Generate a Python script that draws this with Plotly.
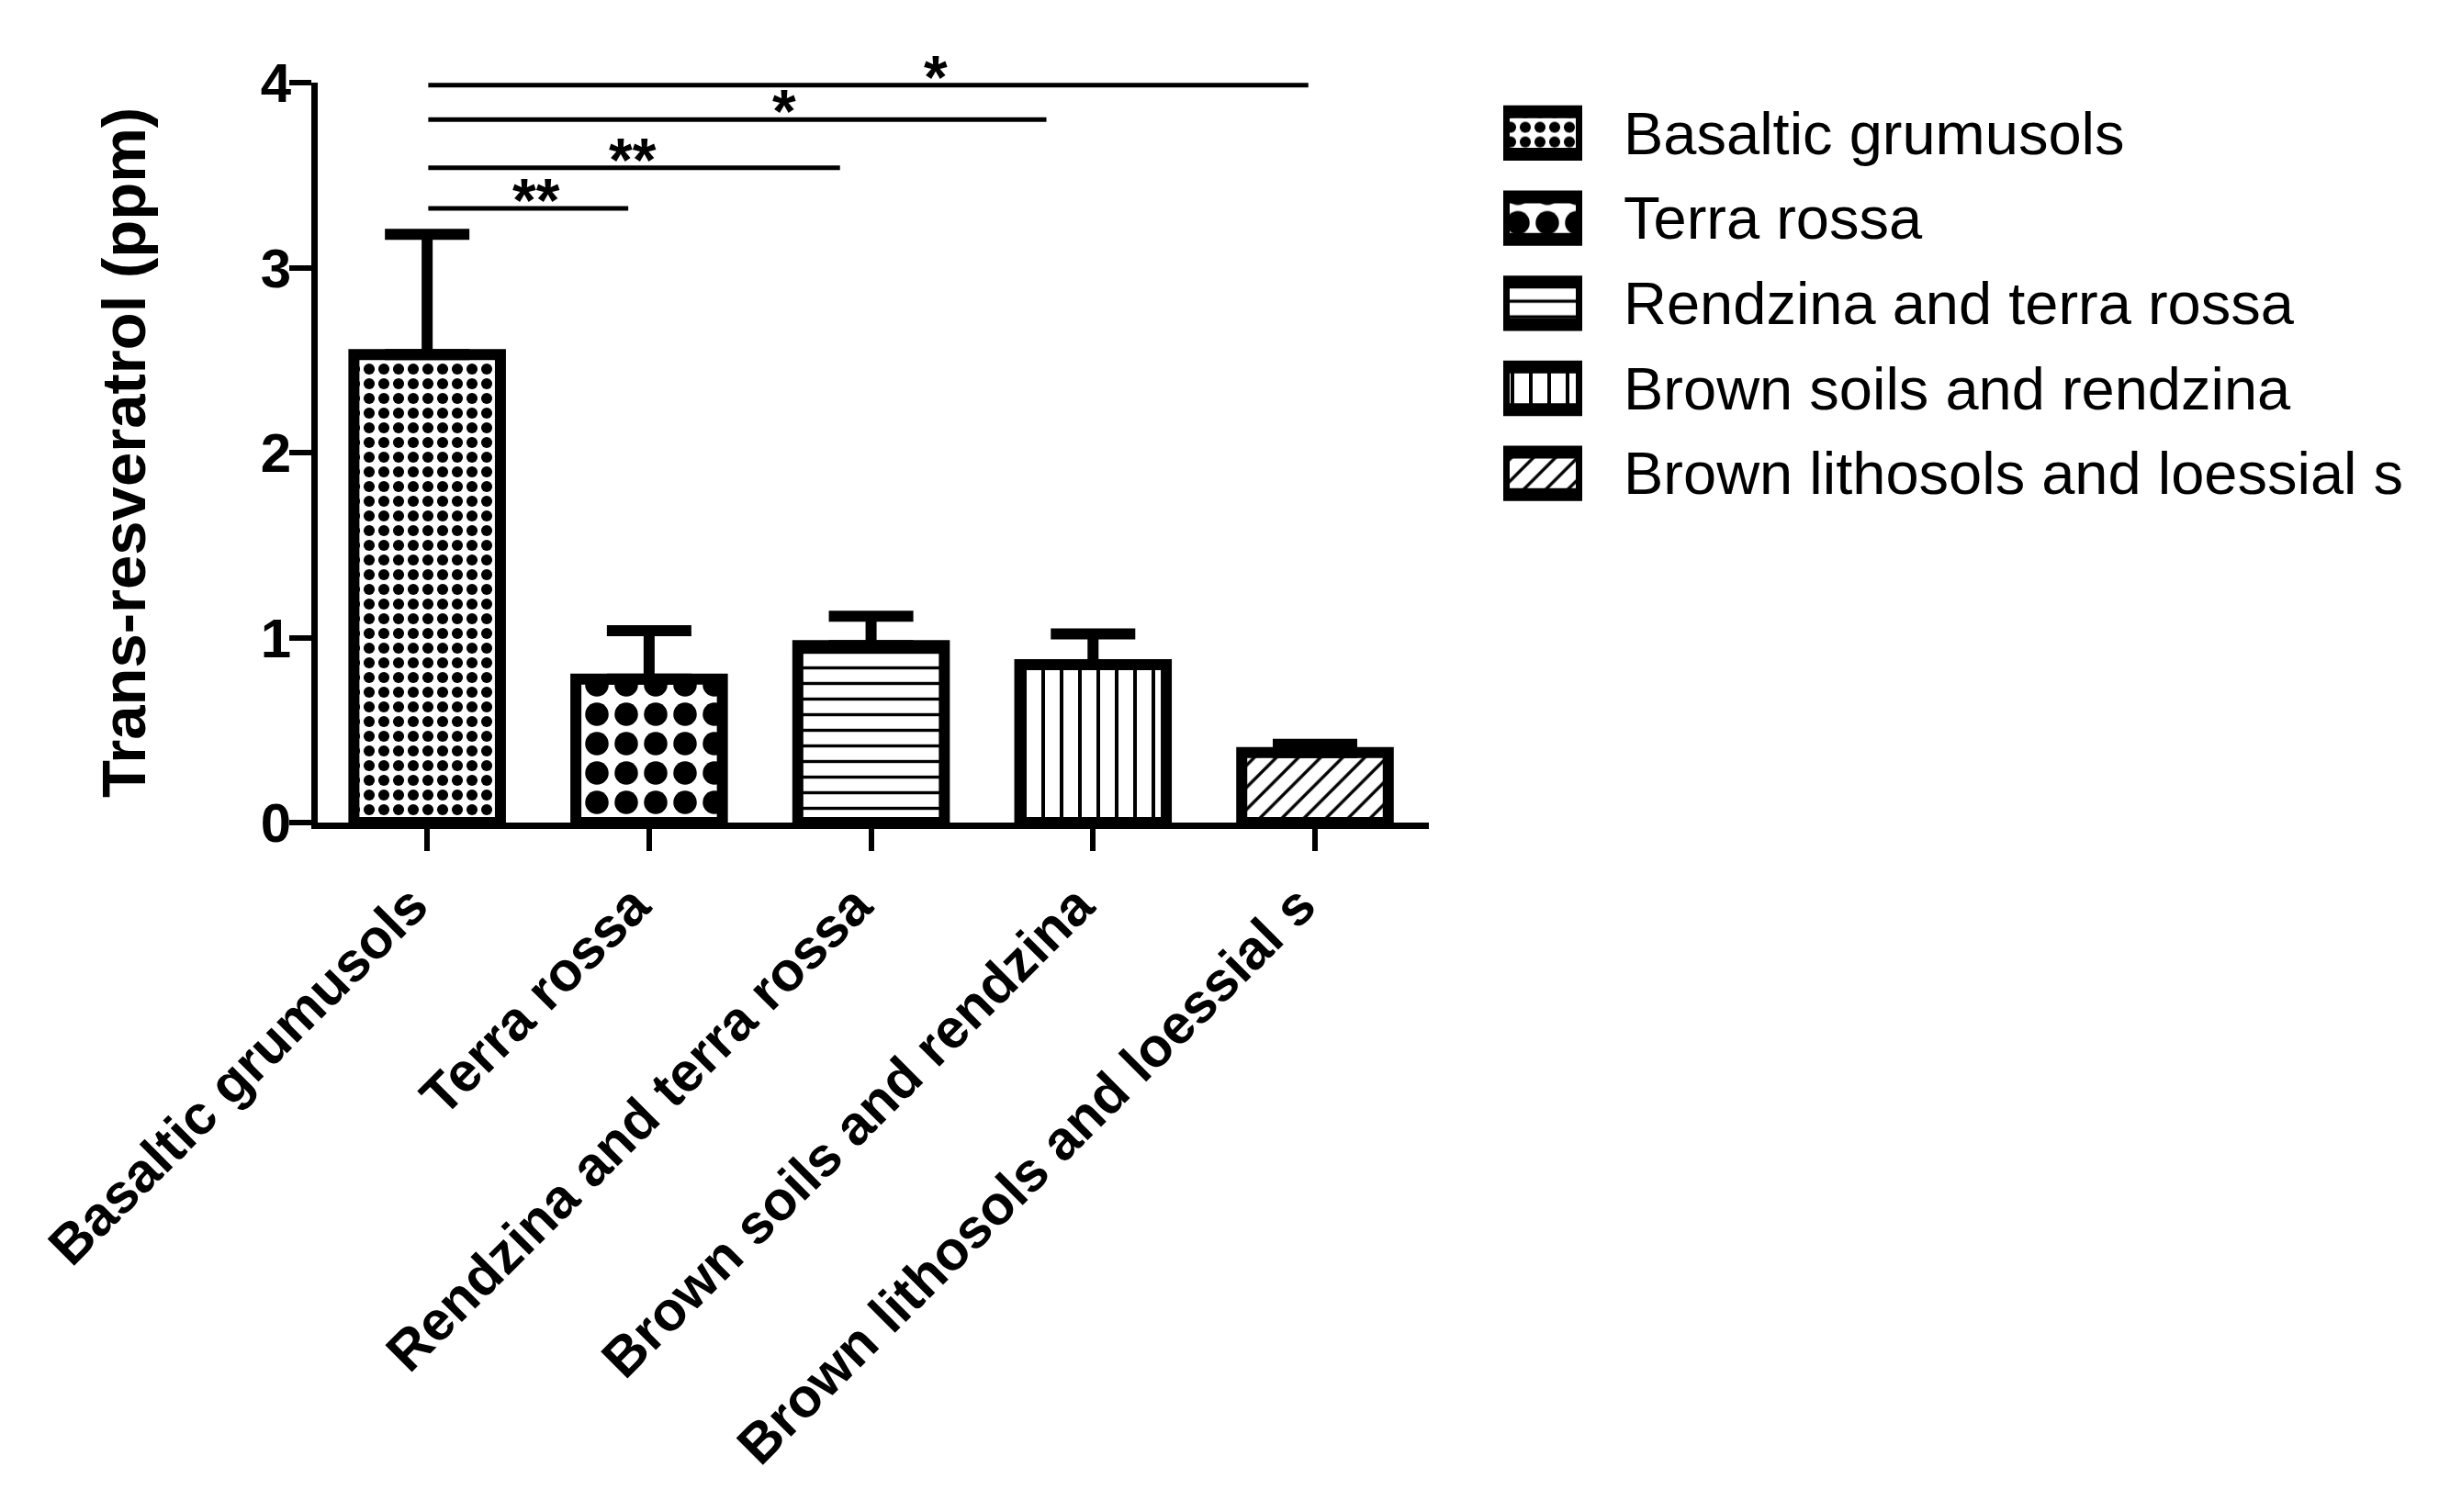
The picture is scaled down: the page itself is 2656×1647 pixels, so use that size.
import plotly.graph_objects as go

categories = ["Basaltic grumusols", "Terra rossa", "Rendzina and terra rossa",
              "Brown soils and rendzina", "Brown lithosols and loessial s"]
means = [2.53, 0.775, 0.957, 0.853, 0.379]
errors = [0.65, 0.262, 0.159, 0.167, 0.044]

pattern_shapes = [".", ".", "-", "|", "/"]
pattern_sizes = [16, 32, 17, 20, 17]
pattern_solidity = [0.45, 0.5, 0.2, 0.2, 0.2]

bracket_start = [0.005, 0.005, 0.005, 0.005]
bracket_end = [3.97, 2.79, 1.86, 0.906]
bracket_y = [3.986, 3.80, 3.54, 3.32]
star_x = [2.29, 1.607, 0.927, 0.49]
star_text = ["*", "*", "**", "**"]

y_ticks = [0, 1, 2, 3, 4]

FONT = "Liberation Sans, Arial, sans-serif"
W, H = 2656, 1647
L, T, B = 346, 90, 751
PW = W - L
main_right = 1556
leg_left, leg_right = 1637, 1723
leg_top, leg_bottom = 98.6, 562.0
PH = H - T - B


def fx(px):
    return (px - L) / PW


def fy(py):
    return 1 - (py - T) / PH


fig = go.Figure()

pattern = dict(shape=pattern_shapes, size=pattern_sizes, solidity=pattern_solidity,
               fgcolor="black", bgcolor="white", fgopacity=1, fillmode="overlay")

fig.add_trace(go.Bar(
    x=list(range(len(categories))), y=means, width=0.66,
    marker=dict(color="white", line=dict(color="black", width=12), pattern=pattern),
    error_y=dict(type="data", symmetric=False, array=errors,
                 arrayminus=[0] * len(errors), color="black", thickness=12, width=46),
    showlegend=False, hovertext=categories,
))

# legend drawn as swatch boxes on a small side axis
fig.add_trace(go.Bar(
    y=list(range(len(categories))), x=[1] * len(categories), orientation="h",
    width=0.5, xaxis="x2", yaxis="y2",
    marker=dict(color="white", line=dict(color="black", width=14), pattern=pattern),
    showlegend=False, hovertext=categories, hoverinfo="text",
))

for i in range(len(bracket_y)):
    fig.add_trace(go.Scatter(
        x=[bracket_start[i], bracket_end[i]], y=[bracket_y[i], bracket_y[i]],
        mode="lines", line=dict(color="black", width=5),
        showlegend=False, hoverinfo="skip", cliponaxis=False,
    ))
    fig.add_annotation(x=star_x[i], y=bracket_y[i], text=star_text[i],
                       showarrow=False, xanchor="center", yanchor="bottom",
                       yshift=-30,
                       font=dict(family=FONT, size=66, color="black", weight="bold"))

fig.update_layout(
    width=W, height=H,
    paper_bgcolor="white", plot_bgcolor="white",
    margin=dict(l=L, r=0, t=T, b=B),
    barmode="overlay",
    font=dict(family=FONT, color="black"),
    showlegend=False,
    xaxis=dict(
        domain=[0, fx(main_right)], automargin=False,
        range=[-0.493, 4.513], tickmode="array",
        tickvals=list(range(len(categories))), ticktext=categories,
        tickangle=-45, ticks="outside", ticklen=24, tickwidth=6,
        tickcolor="black", showline=True, linecolor="black", linewidth=7,
        showgrid=False, zeroline=False, ticklabelshift=-17,
        tickfont=dict(family=FONT, size=60, color="black", weight="bold"),
    ),
    yaxis=dict(
        domain=[0, 1], automargin=False,
        range=[0, 4], tickmode="array", tickvals=y_ticks,
        ticks="outside", ticklen=24, tickwidth=6, tickcolor="black",
        showline=True, linecolor="black", linewidth=7,
        showgrid=False, zeroline=False, ticklabelstandoff=-14,
        tickfont=dict(family=FONT, size=60, color="black", weight="bold"),
        title=dict(text="Trans-resveratrol (ppm)", standoff=106,
                   font=dict(family=FONT, size=67, color="black", weight="bold")),
    ),
    xaxis2=dict(
        domain=[fx(leg_left), fx(leg_right)], anchor="y2", range=[0, 1],
        visible=False, automargin=False, fixedrange=True,
    ),
    yaxis2=dict(
        domain=[fy(leg_bottom), fy(leg_top)], anchor="x2",
        range=[len(categories) - 0.5, -0.5], side="right",
        tickmode="array", tickvals=list(range(len(categories))), ticktext=categories,
        ticks="", showline=False, showgrid=False, zeroline=False,
        ticklabelstandoff=44, automargin=False, fixedrange=True,
        tickfont=dict(family=FONT, size=65, color="black"),
    ),
)

fig.write_html("out.html", config={"displayModeBar": False},
               post_script="document.body.style.margin='0px';"
                           "document.body.style.overflow='hidden';")
